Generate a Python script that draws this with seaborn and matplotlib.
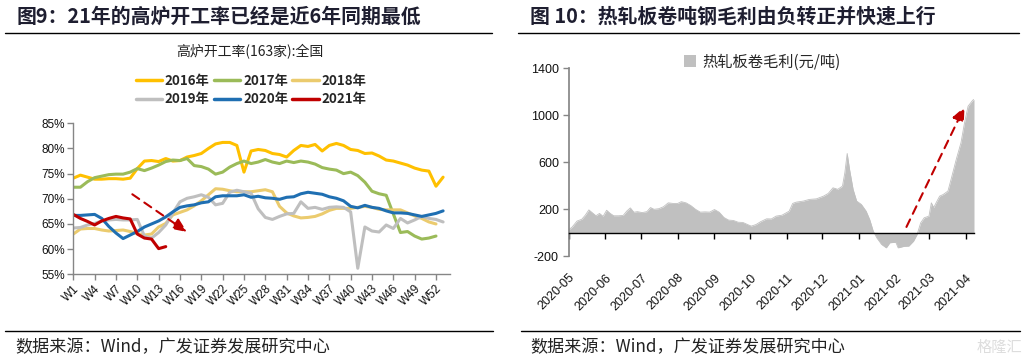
import pandas as pd
import seaborn as sns
import matplotlib.pyplot as plt
import matplotlib.dates as mdates
from matplotlib.lines import Line2D
from matplotlib.patches import Patch

# ---- left: 高炉开工率(163家):全国 (%), by week ----
rate_2016 = [74.1, 74.7, 74.3, 73.9, 73.9, 74.0, 74.0, 73.9, 74.1, 76.0, 77.5, 77.6, 77.4, 78.0,
             77.5, 77.6, 78.3, 78.6, 79.0, 80.0, 80.9, 81.2, 81.2, 80.6, 75.3, 79.5, 79.8, 79.6,
             79.0, 78.8, 78.3, 79.6, 80.6, 80.4, 80.8, 79.5, 80.6, 81.0, 80.6, 79.8, 79.6, 79.0,
             79.1, 78.5, 77.7, 77.5, 77.1, 76.7, 76.1, 75.7, 75.5, 72.5, 74.3]
rate_2017 = [72.3, 72.3, 73.4, 74.2, 74.5, 74.8, 74.9, 74.9, 75.3, 76.0, 75.6, 76.1, 76.7, 77.4,
             77.7, 77.6, 78.0, 76.6, 76.4, 75.9, 74.9, 75.3, 76.3, 77.0, 77.5, 77.0, 77.3, 77.8,
             77.3, 77.0, 77.5, 77.2, 77.5, 77.3, 76.9, 76.2, 75.9, 75.7, 75.0, 75.3, 74.6, 73.3,
             71.5, 71.0, 70.7, 67.0, 63.3, 63.5, 62.6, 62.0, 62.2, 62.6]
rate_2018 = [63.0, 64.0, 64.1, 64.1, 63.8, 63.6, 63.7, 63.8, 63.5, 63.1, 62.8, 63.0, 64.4, 65.1,
             66.8, 67.3, 67.8, 68.6, 69.6, 70.8, 72.0, 71.9, 71.6, 71.4, 71.4, 71.4, 71.6, 71.8,
             71.4, 68.5, 67.2, 66.6, 66.2, 66.3, 66.5, 67.0, 67.7, 68.1, 68.1, 68.1, 68.3, 68.5,
             68.3, 67.9, 67.8, 67.8, 67.8, 67.2, 66.6, 66.1, 65.4, 65.0]
rate_2019 = [64.2, 64.3, 64.8, 65.1, 65.6, 65.8, 65.9, 65.8, 65.8, 65.9, 62.6, 62.2, 63.3, 64.8,
             67.2, 69.4, 70.1, 70.4, 70.8, 70.3, 68.8, 69.1, 71.3, 71.7, 71.4, 71.1, 68.0, 66.3,
             65.9, 66.5, 67.0, 67.1, 69.4, 68.1, 68.3, 67.9, 68.3, 68.4, 68.3, 67.4, 56.2, 64.4,
             63.6, 63.4, 64.8, 64.1, 66.1, 65.2, 65.8, 66.5, 66.1, 65.9, 65.4]
rate_2020 = [66.7, 66.7, 66.8, 66.9, 66.1, 64.5, 63.2, 62.1, 62.8, 63.5, 64.4, 65.0, 65.6, 66.4,
             67.4, 68.3, 68.6, 68.8, 69.2, 69.4, 70.4, 70.6, 70.6, 70.6, 70.8, 70.3, 70.5, 70.2,
             70.1, 69.9, 70.3, 70.4, 71.0, 71.3, 71.1, 70.9, 70.4, 70.1, 69.6, 68.5, 68.2, 68.7,
             68.3, 68.1, 67.6, 67.2, 67.2, 67.1, 66.8, 66.5, 66.8, 67.1, 67.6]
rate_2021 = [66.9, 66.1, 65.5, 64.8, 65.6, 66.1, 66.5, 66.2, 66.0, 63.0, 62.2, 62.0, 60.1, 60.5]

year_labels = ['2016年', '2017年', '2018年', '2019年', '2020年', '2021年']
year_series = [rate_2016, rate_2017, rate_2018, rate_2019, rate_2020, rate_2021]
year_colors = ['#FFC000', '#9BBB59', '#EBCB6E', '#BFBFBF', '#1F6FB2', '#C00000']
week_ticks = list(range(1, 54, 3))

# ---- right: 热轧板卷毛利(元/吨) ----
profit_dates = ['2020-05-01', '2020-05-04', '2020-05-08', '2020-05-12', '2020-05-15', '2020-05-18',
                '2020-05-21', '2020-05-24', '2020-05-27', '2020-05-30', '2020-06-02', '2020-06-05',
                '2020-06-08', '2020-06-12', '2020-06-16', '2020-06-19', '2020-06-22', '2020-06-25',
                '2020-06-28', '2020-07-02', '2020-07-06', '2020-07-09', '2020-07-12', '2020-07-16',
                '2020-07-20', '2020-07-24', '2020-07-28', '2020-08-01', '2020-08-04', '2020-08-08',
                '2020-08-12', '2020-08-16', '2020-08-20', '2020-08-24', '2020-08-28', '2020-09-01',
                '2020-09-05', '2020-09-09', '2020-09-13', '2020-09-17', '2020-09-21', '2020-09-25',
                '2020-09-29', '2020-10-02', '2020-10-06', '2020-10-10', '2020-10-15', '2020-10-19',
                '2020-10-23', '2020-10-28', '2020-11-03', '2020-11-06', '2020-11-09', '2020-11-15',
                '2020-11-20', '2020-11-26', '2020-12-02', '2020-12-06', '2020-12-10', '2020-12-14',
                '2020-12-18', '2020-12-20', '2020-12-22', '2020-12-24', '2020-12-27', '2020-12-30',
                '2021-01-03', '2021-01-07', '2021-01-10', '2021-01-13', '2021-01-16', '2021-01-20',
                '2021-01-24', '2021-01-27', '2021-02-01', '2021-02-03', '2021-02-08', '2021-02-12',
                '2021-02-16', '2021-02-19', '2021-02-22', '2021-02-25', '2021-03-01', '2021-03-03',
                '2021-03-05', '2021-03-07', '2021-03-10', '2021-03-13', '2021-03-17', '2021-03-20',
                '2021-03-24', '2021-03-28', '2021-03-31', '2021-04-03', '2021-04-07', '2021-04-08']
profit_vals = [25, 50, 100, 115, 150, 195,
               170, 145, 165, 140, 192, 165,
               145, 145, 148, 185, 212, 175,
               180, 172, 180, 215, 200, 205,
               222, 255, 250, 250, 265, 255,
               232, 200, 176, 178, 176, 198,
               175, 130, 108, 105, 90, 88,
               70, 57, 70, 95, 119, 118,
               142, 150, 184, 250, 261, 270,
               284, 289, 312, 335, 383, 370,
               397, 511, 675, 539, 369, 270,
               241, 184, 113, 14, -43, -99,
               -128, -85, -80, -128, -115, -113,
               -71, -14, 85, 128, 142, 255,
               215, 255, 312, 326, 355, 468,
               624, 766, 936, 1078, 1129, 1135]
profit_ticks = [-200, 200, 600, 1000, 1400]
month_ticks = ['2020-05', '2020-06', '2020-07', '2020-08', '2020-09', '2020-10',
               '2020-11', '2020-12', '2021-01', '2021-02', '2021-03', '2021-04']

# arrows (data units)
arrow_left = ((9.3, 70.9), (17.0, 63.4))
arrow_right = (('2021-02-10', 50), ('2021-03-31', 1072))

sns.set_theme(style='white')
plt.rcParams['font.family'] = ['Noto Sans CJK SC', 'DejaVu Sans']
cjk = ['Noto Sans CJK SC', 'DejaVu Sans']
num_font = ['Liberation Sans', 'DejaVu Sans']
title_color = '#1E1E30'
red = '#C00000'

W, H = 1025, 361
fig = plt.figure(figsize=(W / 100, H / 100), dpi=100)


def fx(px):
    return px / W


def fy(py):
    return 1 - py / H


# headers and rules
fig.text(fx(17), fy(16), '图9：21年的高炉开工率已经是近6年同期最低', fontsize=14.3,
         weight='bold', color=title_color, va='center', family=cjk)
fig.text(fx(530), fy(16), '图 10：热轧板卷吨钢毛利由负转正并快速上行', fontsize=14.3,
         weight='bold', color=title_color, va='center', family=cjk)
for x0, x1 in [(5, 492), (518, 1019)]:
    fig.add_artist(Line2D([fx(x0), fx(x1)], [fy(33), fy(33)], color='black', lw=1))
for x0, x1 in [(5, 493), (521, 1020)]:
    fig.add_artist(Line2D([fx(x0), fx(x1)], [fy(331), fy(331)], color='black', lw=1))
for x0 in [15, 530]:
    fig.text(fx(x0), fy(347), '数据来源：Wind，广发证券发展研究中心', fontsize=12.3,
             color='#222222', va='center', family=cjk)
fig.text(fx(1022), fy(347), '格隆汇', fontsize=11, color='#DDDDDD', ha='right', va='center',
         family=cjk)

# ---- left chart ----
rows = []
for lab, vals in zip(year_labels, year_series):
    for i, v in enumerate(vals):
        rows.append({'week': i + 1, 'rate': v, 'year': lab})
df = pd.DataFrame(rows)

ax1 = fig.add_axes([fx(73.3), fy(274.3), fx(449.5) - fx(73.3), fy(123.3) - fy(274.3)])
sns.lineplot(data=df, x='week', y='rate', hue='year', palette=year_colors, linewidth=2.2,
             legend=False, ax=ax1, hue_order=year_labels)
ax1.set_xlim(1, 53.9)
ax1.set_ylim(55, 85)
ax1.set_yticks([55, 60, 65, 70, 75, 80, 85])
ax1.set_yticklabels([f'{v}%' for v in [55, 60, 65, 70, 75, 80, 85]], family=num_font, fontsize=8.5)
ax1.set_xticks(week_ticks)
ax1.set_xticklabels([f'W{w}' for w in week_ticks], rotation=45, ha='right', rotation_mode='anchor',
                    family=num_font, fontsize=8.5)
ax1.set_xlabel('')
ax1.set_ylabel('')
for s in ['top', 'right']:
    ax1.spines[s].set_visible(False)
for s in ['left', 'bottom']:
    ax1.spines[s].set_color('#868686')
    ax1.spines[s].set_linewidth(1)
ax1.tick_params(axis='both', which='major', direction='out', length=4, width=1, color='#868686',
                left=True, bottom=True, pad=2, labelcolor='#111111')
(sx, sy), (ex, ey) = arrow_left
ax1.annotate('', xy=(ex, ey), xytext=(sx, sy),
             arrowprops=dict(arrowstyle='-|>,head_length=0.7,head_width=0.3', color=red, lw=1.5,
                             linestyle=(0, (4, 3)), shrinkA=0, shrinkB=0))

fig.text(fx(250), fy(52), '高炉开工率(163家):全国', fontsize=10, ha='center', va='center',
         color='#222222', family=cjk)
handles = [Line2D([0], [0], color=c, lw=2.5) for c in year_colors]
order = [0, 3, 1, 4, 2, 5]  # legend fills by column; keep rows as 2016-2018 / 2019-2021
fig.legend([handles[i] for i in order], [year_labels[i] for i in order], loc='center',
           bbox_to_anchor=(fx(251), fy(90)), ncol=3, frameon=False, handlelength=2.0,
           handletextpad=0.2, columnspacing=0.3, labelspacing=0.35,
           prop={'family': cjk, 'weight': 'bold', 'size': 9.6})

# ---- right chart ----
df2 = pd.DataFrame({'date': pd.to_datetime(profit_dates), 'profit': profit_vals})
ax2 = fig.add_axes([fx(568.7), fy(256.3), fx(974) - fx(568.7), fy(68.3) - fy(256.3)])
sns.lineplot(data=df2, x='date', y='profit', color='#C0C0C0', linewidth=0.6, ax=ax2)
ax2.fill_between(df2['date'], df2['profit'], 0, color='#C0C0C0', linewidth=0)
# moving the spine resets the ticks, so do it before styling them
ax2.spines['bottom'].set_position(('data', 0))
ax2.spines['bottom'].set_color('black')
ax2.spines['bottom'].set_linewidth(1)
ax2.spines['top'].set_visible(False)
ax2.spines['right'].set_visible(False)
ax2.spines['left'].set_color('#868686')
ax2.set_xlim(pd.Timestamp('2020-05-01'), pd.Timestamp('2021-04-08'))
ax2.set_ylim(-200, 1400)
ax2.set_yticks(profit_ticks)
ax2.set_yticklabels([str(v) for v in profit_ticks], family=num_font, fontsize=9)
ax2.set_xticks(pd.to_datetime([m + '-01' for m in month_ticks]))
ax2.set_xticklabels(month_ticks, rotation=45, ha='right', rotation_mode='anchor',
                    family=num_font, fontsize=9)
ax2.set_xlabel('')
ax2.set_ylabel('')
ax2.tick_params(axis='y', direction='out', length=4, width=1, color='#868686', left=True, pad=3,
                labelcolor='#111111')
ax2.tick_params(axis='x', direction='out', length=4, width=1, color='black', bottom=True, pad=24,
                labelcolor='#111111')
(sd, sv), (ed, ev) = arrow_right
ax2.annotate('', xy=(mdates.date2num(pd.Timestamp(ed)), ev),
             xytext=(mdates.date2num(pd.Timestamp(sd)), sv),
             arrowprops=dict(arrowstyle='-|>,head_length=0.7,head_width=0.3', color=red, lw=1.5,
                             linestyle=(0, (4, 3)), shrinkA=0, shrinkB=0))
ax2.legend([Patch(facecolor='#C0C0C0', edgecolor='none')], ['热轧板卷毛利(元/吨)'],
           loc='center', bbox_to_anchor=(fx(762), fy(62)), bbox_transform=fig.transFigure,
           frameon=False, handlelength=0.8, handleheight=0.8, handletextpad=0.4,
           prop={'family': cjk, 'size': 11})

fig.savefig('out.png', dpi=100)
